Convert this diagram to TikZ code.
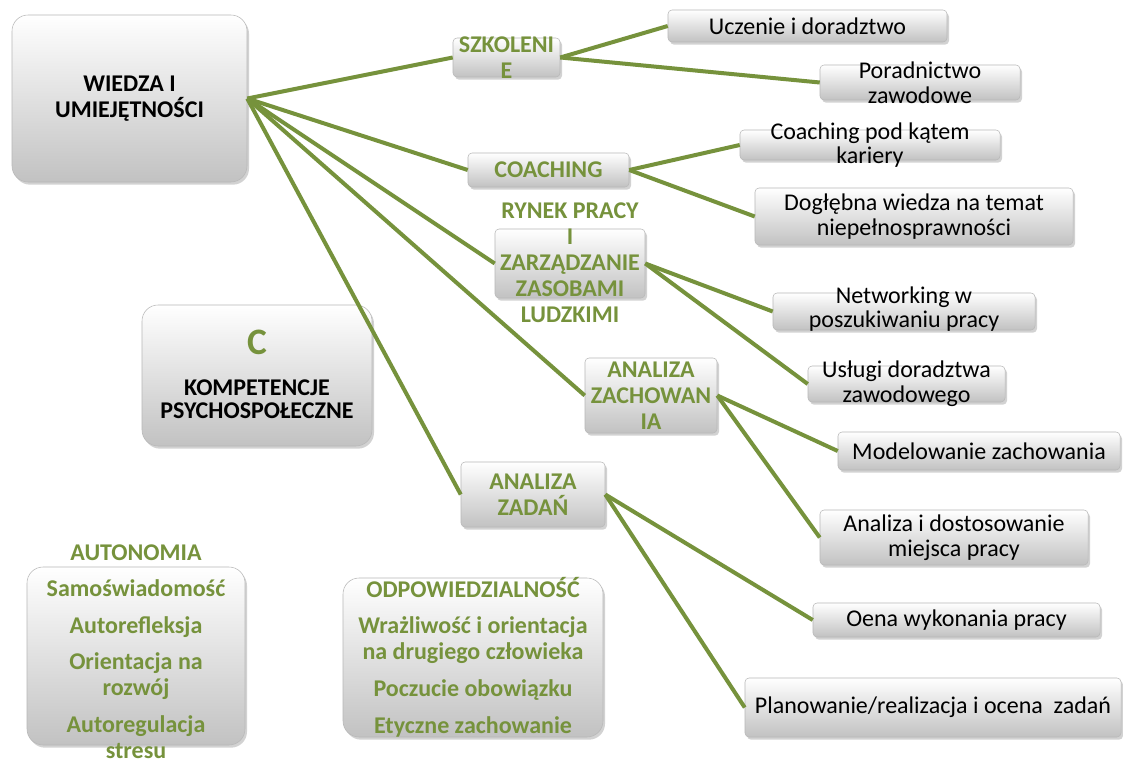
\documentclass[tikz,border=0pt]{standalone}
\usepackage{fontspec}
\setmainfont{Carlito}
\usepackage{xcolor}
\usetikzlibrary{shadows}
\definecolor{olivegreen}{HTML}{76923C}

\begin{document}
\begin{tikzpicture}[x=0.75pt, y=-0.75pt,
    box/.style={rectangle, rounded corners=3pt, draw=black!28, top color=white, bottom color=black!24,
        inner sep=0pt, drop shadow={opacity=0.35, shadow xshift=1.5pt, shadow yshift=-2pt}},
    bigbox/.style={box, rounded corners=12pt},
    sz/.style 2 args={minimum width=#1*0.75pt, minimum height=#2*0.75pt},
    txt/.style={align=center, font=\fontsize{18}{18.5}\selectfont},
    head/.style={align=center, text=olivegreen, font=\fontsize{18}{19.5}\selectfont\bfseries},
    title/.style={align=center, font=\fontsize{18}{19.5}\selectfont\bfseries},
    link/.style={draw=olivegreen, line width=3pt}]

    \path[fill=white, use as bounding box] (0,0) rectangle (1123,763);

    % Nodes
    \node[bigbox, sz={235}{167}] (wiedza) at (129.5,98.5) {};
    \node[title] (wiedza-t) at (wiedza) {WIEDZA I\\UMIEJĘTNOŚCI};

    \node[box, sz={107}{39}] (szk) at (506.5,57.5) {};
    \node[head] (szk-t) at (szk) {SZKOLENI\\E};
    \node[box, sz={161}{34}] (coach) at (548.5,170) {};
    \node[head] (coach-t) at (coach) {COACHING};
    \node[box, sz={150}{69}] (rynek) at (570,263.5) {};
    \node[head] (rynek-t) at (570,263) {RYNEK PRACY\\I\\ZARZĄDZANIE\\ZASOBAMI\\LUDZKIMI};
    \node[box, sz={132}{75}] (azach) at (651,395.5) {};
    \node[head] (azach-t) at (azach) {ANALIZA\\ZACHOWAN\\IA};
    \node[box, sz={144}{65}] (azad) at (533,494.5) {};
    \node[head] (azad-t) at (azad) {ANALIZA\\ZADAŃ};

    \node[box, sz={279}{32}] (ucz) at (807.5,26) {};
    \node[txt] (ucz-t) at (ucz) {Uczenie i doradztwo};
    \node[box, sz={200}{35}] (por) at (920,82.5) {};
    \node[txt] (por-t) at (por) {Poradnictwo\\zawodowe};
    \node[box, sz={260}{30}] (cpk) at (870,145) {};
    \node[txt] (cpk-t) at (cpk) {Coaching pod kątem\\kariery};
    \node[box, sz={318}{57}] (dog) at (914,216.5) {};
    \node[txt] (dog-t) at (dog) {Dogłębna wiedza na temat\\niepełnosprawności};
    \node[box, sz={262}{37}] (net) at (904,311.5) {};
    \node[txt] (net-t) at (904,309) {Networking w\\poszukiwaniu pracy};
    \node[box, sz={197}{36}] (usl) at (906.5,384) {};
    \node[txt] (usl-t) at (usl) {Usługi doradztwa\\zawodowego};
    \node[box, sz={282}{38}] (mod) at (979,451) {};
    \node[txt] (mod-t) at (mod) {Modelowanie zachowania};
    \node[box, sz={268}{55}] (adm) at (954,537.5) {};
    \node[txt] (adm-t) at (adm) {Analiza i dostosowanie\\miejsca pracy};
    \node[box, sz={287}{34}] (oena) at (956.5,620) {};
    \node[txt] (oena-t) at (oena) {Oena wykonania pracy};
    \node[box, sz={376}{59}] (plan) at (933,707.5) {};
    \node[txt] (plan-t) at (plan) {Planowanie/realizacja i ocena\ \ zadań};

    \node[bigbox, sz={230}{141}] (komp) at (257,375.5) {};
    \node[head, font=\fontsize{28}{28}\selectfont\bfseries] (komp-c) at (257,342) {C};
    \node[title, font=\fontsize{18}{17.5}\selectfont\bfseries] (komp-t) at (257,399) {KOMPETENCJE\\PSYCHOSPOŁECZNE};

    \node[bigbox, sz={218}{178}] (auto) at (136,656) {};
    \node[head] (auto-h) at (136,553) {AUTONOMIA};
    \node[head] (auto-t) at (136,669) {Samoświadomość\\[8pt]Autorefleksja\\[8pt]Orientacja na\\rozwój\\[8pt]Autoregulacja\\stresu};

    \node[bigbox, sz={260}{159}] (odp) at (473,657.5) {};
    \node[head] (odp-t) at (473,657) {ODPOWIEDZIALNOŚĆ\\[8pt]Wrażliwość i orientacja\\na drugiego człowieka\\[8pt]Poczucie obowiązku\\[8pt]Etyczne zachowanie};

    % Connectors
    \foreach \to in {szk, coach, rynek, azach, azad}
        \draw[link] (wiedza.east) -- (\to.west);
    \draw[link] (szk.east) -- (ucz.west);
    \draw[link] (szk.east) -- (por.west);
    \draw[link] (coach.east) -- (cpk.west);
    \draw[link] (coach.east) -- (dog.west);
    \draw[link] (rynek.east) -- (net.west);
    \draw[link] (rynek.east) -- (usl.west);
    \draw[link] (azach.east) -- (mod.west);
    \draw[link] (azach.east) -- (adm.west);
    \draw[link] (azad.east) -- (oena.west);
    \draw[link] (azad.east) -- (plan.west);

\end{tikzpicture}
\end{document}
